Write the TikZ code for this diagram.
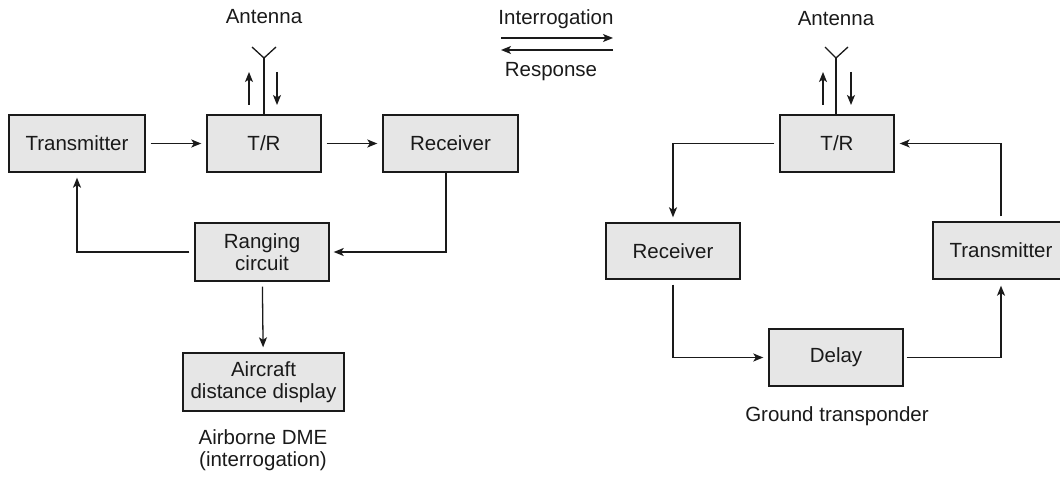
\documentclass[tikz,border=0pt]{standalone}
\usepackage{fontspec}
\setmainfont{Liberation Sans}
\usetikzlibrary{arrows.meta}
\definecolor{boxfill}{HTML}{E6E6E6}
\definecolor{ink}{HTML}{1A1A1A}
\begin{document}
\begin{tikzpicture}[x=1pt,y=-1pt,
  every node/.style={font=\fontsize{20.5}{21.5}\selectfont, text=ink},
  block/.style={draw=ink, line width=1.4pt, fill=boxfill, inner sep=0pt, align=center},
  label/.style={align=center, inner sep=0pt},
  conn/.style={draw=ink, line width=1.3pt},
  flow/.style={conn, -{Stealth[length=10pt,width=8pt,inset=2.5pt]}},
  gap/.style={shorten <=5pt, shorten >=5pt}]
\useasboundingbox (0,0) rectangle (1060,478);
\clip (0,0) rectangle (1060,478);

% ---- airborne interrogator ----
\node[block, minimum width=136pt, minimum height=57pt] (ltx) at (77,143.5) {Transmitter};
\node[block, minimum width=114pt, minimum height=57pt] (ltr) at (264,143.5) {T/R};
\node[block, minimum width=135pt, minimum height=57pt] (lrx) at (450.5,143.5) {Receiver};
\node[block, minimum width=134pt, minimum height=58pt] (rng) at (262,252) {Ranging\\circuit};
\node[block, minimum width=161pt, minimum height=58pt] (disp) at (263.5,382) {Aircraft\\distance display};
\node[label] (lant) at (264,17) {Antenna};
\node[label] (lcap) at (263,450) {Airborne DME\\(interrogation)};

% antenna on the airborne T/R
\coordinate (lfeed) at (264,58);
\coordinate (larmL) at (252,47);
\coordinate (larmR) at (276,47);
\draw[conn] (ltr.north) -- (lfeed);
\draw[conn] (larmL) -- (lfeed) -- (larmR);
\coordinate (lupA) at (249,105);
\coordinate (lupB) at (249,72);
\coordinate (ldnA) at (277,72);
\coordinate (ldnB) at (277,105);
\draw[flow] (lupA) -- (lupB);
\draw[flow] (ldnA) -- (ldnB);

\draw[flow, gap] (ltx) -- (ltr);
\draw[flow, gap] (ltr) -- (lrx);
\draw[flow, shorten >=4pt] (lrx.south -| 446,0) |- (rng.east);
\draw[flow, gap] (rng.west) -| (ltx.south);
\draw[flow, gap] (rng) -- (disp);

% ---- interrogation / response link ----
\coordinate (lnkL1) at (501,38);
\coordinate (lnkR1) at (613,38);
\coordinate (lnkL2) at (501,50);
\coordinate (lnkR2) at (613,50);
\node[label] (intg) at (556,19) {Interrogation};
\node[label] (resp) at (551,72) {Response};
\draw[flow] (lnkL1) -- (lnkR1);
\draw[flow] (lnkR2) -- (lnkL2);

% ---- ground transponder ----
\node[block, minimum width=114pt, minimum height=57pt] (rtr) at (837,143.5) {T/R};
\node[block, minimum width=134pt, minimum height=56pt] (rrx) at (673,251) {Receiver};
\node[block, minimum width=136pt, minimum height=57pt] (rtx) at (1001,250.5) {Transmitter};
\node[block, minimum width=134pt, minimum height=57pt] (dly) at (836,357.5) {Delay};
\node[label] (rant) at (836,19) {Antenna};
\node[label] (rcap) at (837,416) {Ground transponder};

% antenna on the ground T/R
\coordinate (rfeed) at (836,58);
\coordinate (rarmL) at (825,47);
\coordinate (rarmR) at (848,47);
\draw[conn] (rtr.north -| rfeed) -- (rfeed);
\draw[conn] (rarmL) -- (rfeed) -- (rarmR);
\coordinate (rupA) at (823,105);
\coordinate (rupB) at (823,72);
\coordinate (rdnA) at (851,72);
\coordinate (rdnB) at (851,105);
\draw[flow] (rupA) -- (rupB);
\draw[flow] (rdnA) -- (rdnB);

\draw[flow, gap] (rtr.west) -| (rrx.north);
\draw[flow, gap] (rtx.north) |- (rtr.east);
\draw[flow, gap] (rrx.south) |- (dly.west);
\draw[flow, shorten <=3pt, shorten >=6pt] (dly.east) -| (rtx.south);
\end{tikzpicture}
\end{document}
